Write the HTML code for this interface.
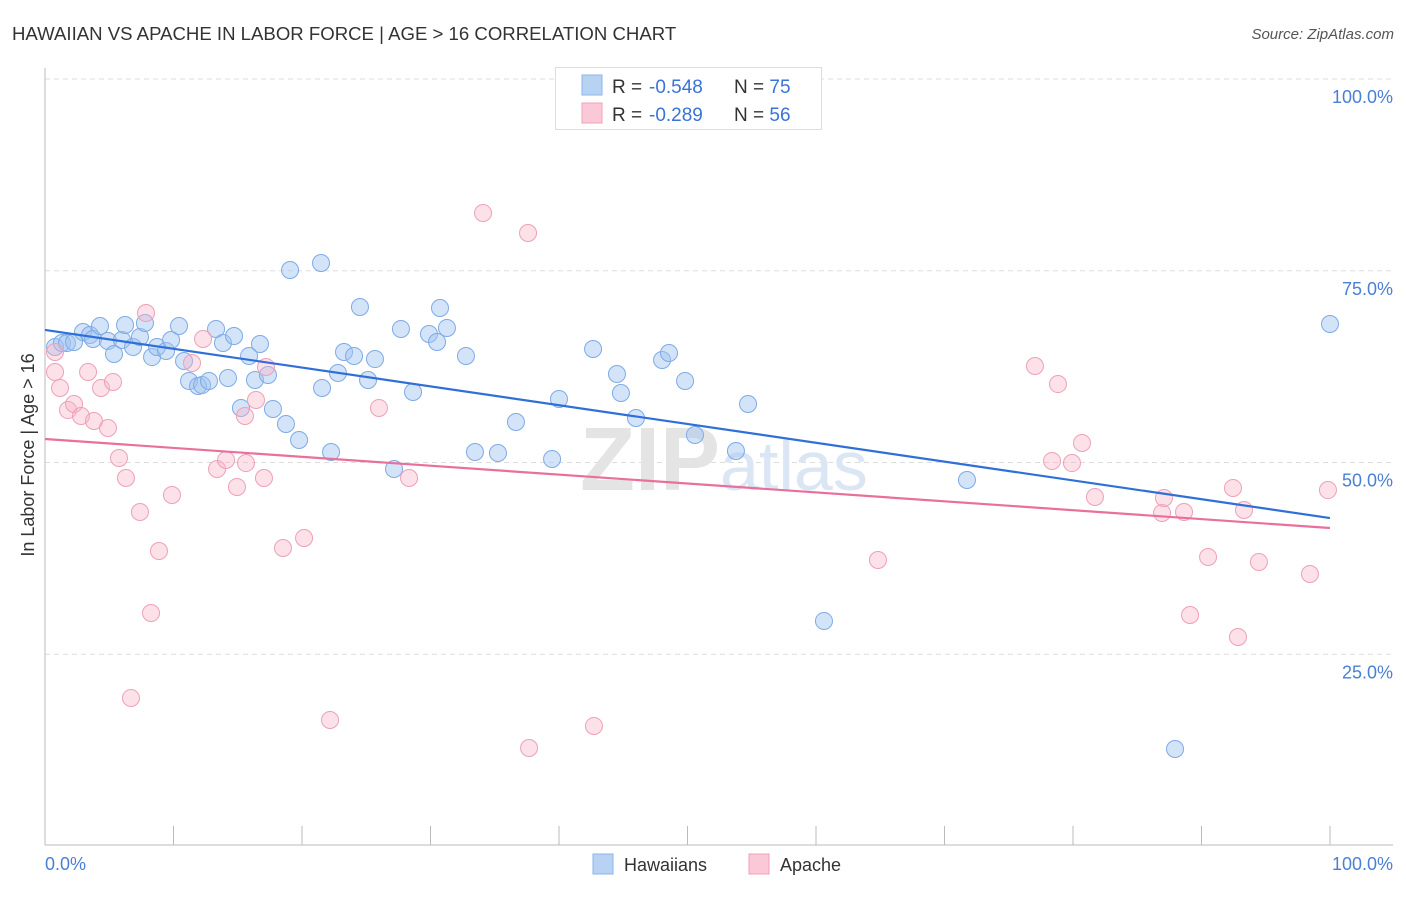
<!DOCTYPE html>
<html><head><meta charset="utf-8"><style>
body{margin:0;background:#fff;font-family:"Liberation Sans",sans-serif;}
svg text{font-family:"Liberation Sans",sans-serif;}
</style></head><body>
<svg id="chart" width="1406" height="892" xmlns="http://www.w3.org/2000/svg">
<text x="12" y="40" font-size="18.6" fill="#333">HAWAIIAN VS APACHE IN LABOR FORCE | AGE &gt; 16 CORRELATION CHART</text>
<text x="1394" y="39" font-size="15" fill="#555" font-style="italic" text-anchor="end">Source: ZipAtlas.com</text>
<g id="grid"></g>
<text x="720" y="490" font-size="90" fill="#e4e4e4" text-anchor="end" font-family="Liberation Serif" font-weight="bold">ZIP</text>
<text x="720" y="490" font-size="70" fill="#dbe6f5">atlas</text>
<line x1="45" y1="68" x2="45" y2="845" stroke="#bbb"/>
<line x1="45" y1="845" x2="1393" y2="845" stroke="#bbb"/>
<g id="ticks"></g>
<g id="marks"></g>
<g id="trends"></g>
<text transform="translate(34,455) rotate(-90)" font-size="18" fill="#333" text-anchor="middle">In Labor Force | Age &gt; 16</text>
<text x="45" y="870" font-size="18" fill="#4a7fd6">0.0%</text>
<text x="1393" y="870" font-size="18" fill="#4a7fd6" text-anchor="end">100.0%</text>
<g>
<rect x="555.5" y="67.5" width="266" height="62" fill="#fff" stroke="#ddd"/>
<rect x="582" y="75" width="20" height="20" fill="#b8d2f4" stroke="#8ab4e8"/>
<rect x="582" y="103" width="20" height="20" fill="#fac8d6" stroke="#f0a0b8"/>
<text x="612" y="93" font-size="19" fill="#333">R = <tspan fill="#3b73d6" x="649">-0.548</tspan><tspan x="734">N = </tspan><tspan fill="#3b73d6">75</tspan></text>
<text x="612" y="121" font-size="19" fill="#333">R = <tspan fill="#3b73d6" x="649">-0.289</tspan><tspan x="734">N = </tspan><tspan fill="#3b73d6">56</tspan></text>
</g>
<g>
<rect x="593" y="854" width="20" height="20" fill="#b8d2f4" stroke="#8ab4e8"/>
<text x="624" y="871" font-size="18" fill="#333">Hawaiians</text>
<rect x="749" y="854" width="20" height="20" fill="#fac8d6" stroke="#f0a0b8"/>
<text x="780" y="871" font-size="18" fill="#333">Apache</text>
</g>
</svg>
<script>
const yTicks=[25,50,75,100];
const yTickLabels=["25.0%","50.0%","75.0%","100.0%"];
const xTicks=[0,10,20,30,40,50,60,70,80,90,100];
const hawX=[0.78,1.32,1.71,2.26,2.96,3.5,3.74,4.28,4.9,5.37,5.99,6.23,6.85,7.39,7.78,8.33,8.72,9.42,9.81,10.43,10.82,11.21,11.91,12.22,12.76,13.31,13.85,14.24,14.71,15.25,15.88,16.34,16.73,17.35,17.74,18.75,19.07,19.77,21.48,21.56,22.26,22.8,23.27,24.05,24.51,25.14,25.68,27.16,27.7,28.64,29.88,30.51,30.74,31.28,32.76,33.46,35.25,36.65,39.46,40,42.65,44.51,44.82,45.99,48.02,48.56,49.81,50.58,53.77,54.71,60.62,71.75,87.94,100];
const hawY=[65.06,65.58,65.58,65.71,67.01,66.62,66.1,67.8,65.84,64.15,65.97,67.93,65.06,66.36,68.19,63.75,65.06,64.54,65.97,67.8,63.23,60.63,59.97,60.1,60.63,67.41,65.58,61.02,66.49,57.11,63.89,60.76,65.45,61.41,56.98,55.02,75.1,52.93,76.01,59.71,51.37,61.67,64.41,63.89,70.27,60.76,63.49,49.15,67.41,59.19,66.75,65.71,70.14,67.54,63.89,51.37,51.24,55.28,50.46,58.28,64.8,61.54,59.06,55.8,63.36,64.28,60.63,53.59,51.5,57.63,29.34,47.72,12.65,68.06];
const apaX=[0.78,0.78,1.17,1.79,2.26,2.8,3.35,3.81,4.36,4.9,5.29,5.76,6.3,7.39,7.86,8.25,8.87,6.69,9.88,12.3,11.44,13.39,14.09,14.94,15.64,15.56,16.42,17.04,17.2,18.52,20.16,22.18,25.99,28.33,34.09,37.59,37.67,42.72,64.82,77.04,78.83,78.37,79.92,80.7,81.71,86.93,87.08,88.64,89.11,90.51,92.45,92.84,93.31,94.47,98.44,99.84];
const apaY=[64.41,61.8,59.71,56.84,57.63,56.06,61.8,55.41,59.71,54.5,60.5,50.59,47.98,43.55,69.49,30.38,38.46,19.3,45.76,66.1,62.97,49.15,50.33,46.81,49.93,56.06,58.15,47.98,62.45,38.85,40.16,16.43,57.11,47.98,82.53,79.92,12.78,15.65,37.29,62.58,60.23,50.2,49.93,52.54,45.5,43.42,45.37,43.55,30.12,37.68,46.68,27.25,43.81,37.03,35.46,46.41];
const trendStart=[67.28,53.06];
const trendEnd=[42.76,41.46];
const NS="http://www.w3.org/2000/svg";
const sx=v=>45+v*12.85;
const sy=v=>846-v*7.67;
function mk(tag,attrs,parent){const e=document.createElementNS(NS,tag);for(const k in attrs)e.setAttribute(k,attrs[k]);parent.appendChild(e);return e;}
const grid=document.getElementById('grid');
yTicks.forEach((t,i)=>{
 const l=mk('line',{x1:45,x2:1393,y1:sy(t),y2:sy(t),stroke:'#ddd','stroke-dasharray':'5,4'},grid);
 
 
 const tx=mk('text',{x:1393,y:sy(t)+24,'font-size':18,fill:'#4a7fd6','text-anchor':'end'},grid);
 tx.textContent=yTickLabels[i];
 
 
});
const ticks=document.getElementById('ticks');
xTicks.forEach(t=>{
 const l=mk('line',{x1:sx(t),x2:sx(t),y1:826,y2:845,stroke:'#bbb'},ticks);
 
 
});
const marks=document.getElementById('marks');
function pts(xs,ys,fill,stroke,name){xs.forEach((x,i)=>{
 const c=mk('circle',{cx:sx(x),cy:sy(ys[i]),r:8.5,fill:fill,stroke:stroke,'stroke-width':1},marks);
 
 
});}
pts(hawX,hawY,'rgba(160,196,240,0.45)','#7eaae6','hawaiians-point');
pts(apaX,apaY,'rgba(248,180,200,0.4)','#eea0b8','apache-point');
const trends=document.getElementById('trends');
const cols=['#2f6fd8','#e8709a'];const tn=['trend-hawaiians','trend-apache'];
trendStart.forEach((s,i)=>{
 const l=mk('line',{x1:sx(0),y1:sy(s),x2:sx(100),y2:sy(trendEnd[i]),stroke:cols[i],'stroke-width':2.2},trends);
 
 
});
</script>
</body></html>
